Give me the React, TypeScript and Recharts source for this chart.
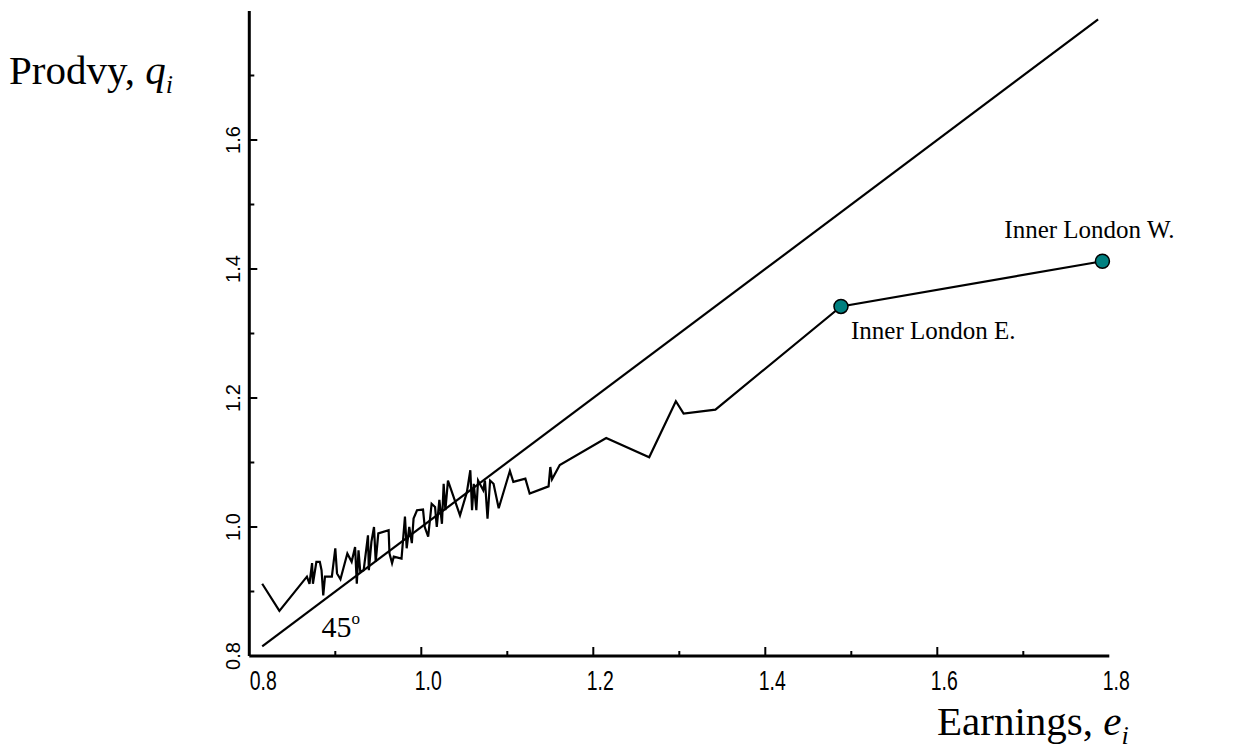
import { ComposedChart, Line, ReferenceDot, Scatter, XAxis, YAxis } from 'recharts'

// relative earnings (x) and relative productivity (y)
const earnings = [
  0.815, 0.835, 0.867, 0.87, 0.873, 0.874, 0.878, 0.882, 0.884, 0.886,
  0.888, 0.896, 0.9, 0.902, 0.906, 0.914, 0.919, 0.923, 0.925, 0.927,
  0.929, 0.933, 0.938, 0.939, 0.942, 0.945, 0.947, 0.95, 0.962, 0.963,
  0.966, 0.968, 0.977, 0.981, 0.983, 0.986, 0.989, 0.991, 0.995, 1.002,
  1.004, 1.008, 1.012, 1.016, 1.018, 1.021, 1.024, 1.026, 1.028, 1.031,
  1.045, 1.053, 1.057, 1.059, 1.061, 1.064, 1.066, 1.072, 1.074, 1.077,
  1.08, 1.084, 1.09, 1.103, 1.107, 1.121, 1.126, 1.148, 1.15, 1.152,
  1.161, 1.215, 1.265, 1.296, 1.305, 1.342,
]
const productivity = [
  0.912, 0.87, 0.923, 0.912, 0.944, 0.912, 0.946, 0.946, 0.933, 0.894,
  0.923, 0.923, 0.967, 0.928, 0.919, 0.959, 0.946, 0.969, 0.912, 0.964,
  0.931, 0.933, 0.987, 0.933, 0.977, 1.0, 0.946, 0.99, 0.995, 0.959,
  0.944, 0.954, 0.951, 1.016, 0.967, 1.0, 0.975, 1.013, 1.026, 1.027,
  1.0, 0.985, 1.036, 1.031, 1.0, 1.042, 1.005, 1.067, 1.026, 1.072,
  1.018, 1.054, 1.088, 1.026, 1.067, 1.026, 1.072, 1.057, 1.072, 1.013,
  1.072, 1.067, 1.029, 1.087, 1.07, 1.075, 1.052, 1.063, 1.093, 1.074,
  1.096, 1.138, 1.108, 1.195, 1.176, 1.182,
]
const londonNames = ['Inner London E.', 'Inner London W.']
const londonEarnings = [1.488, 1.792]
const londonProductivity = [1.342, 1.412]

const diagonalEnds = [0.815, 1.787]
const xTicks = [0.8, 0.9, 1.0, 1.1, 1.2, 1.3, 1.4, 1.5, 1.6, 1.7, 1.8]
const yTicks = [0.8, 0.9, 1.0, 1.1, 1.2, 1.3, 1.4, 1.5, 1.6, 1.7]

const regionData = [
  ...earnings.map((x, i) => ({ x, y: productivity[i] })),
  ...londonEarnings.map((x, i) => ({ x, y: londonProductivity[i] })),
]
const londonData = londonNames.map((name, i) => ({ name, x: londonEarnings[i], y: londonProductivity[i] }))
const diagonalData = diagonalEnds.map((v) => ({ x: v, y: v }))

const SANS = '"Liberation Sans", Arial, sans-serif'
const SERIF = '"Liberation Serif", "Times New Roman", serif'

const isMajor = (v: number) => Math.round(v * 10) % 2 === 0

function XTick({ x, y, payload }: any) {
  const v = payload.value
  const major = isMajor(v)
  const shift = v === 0.8 ? 14 : 7
  return (
    <g>
      {v > 0.8 && v < 1.8 && (
        <line x1={x} x2={x} y1={y} y2={y - (major ? 9 : 5)} stroke="#000" strokeWidth={2} />
      )}
      {major && (
        <text
          transform={`translate(${x + shift},${y + 34}) scale(0.72,1)`}
          textAnchor="middle"
          fontFamily={SANS}
          fontSize={27}
          fill="#000"
        >
          {v.toFixed(1)}
        </text>
      )}
    </g>
  )
}

function YTick({ x, y, payload }: any) {
  const v = payload.value
  const major = isMajor(v)
  const lx = x - 9
  return (
    <g>
      {v > 0.8 && (
        <line x1={x} x2={x + (major ? 8 : 5)} y1={y} y2={y} stroke="#000" strokeWidth={2} />
      )}
      {major && (
        <text
          x={lx}
          y={y}
          transform={`rotate(-90 ${lx} ${y})`}
          textAnchor="middle"
          fontFamily={SANS}
          fontSize={20}
          fill="#000"
        >
          {v.toFixed(1)}
        </text>
      )}
    </g>
  )
}

function LondonMarker({ cx, cy, payload }: any) {
  const west = payload.name.endsWith('W.')
  return (
    <g>
      <circle cx={cx} cy={cy} r={7} fill="#008080" stroke="#000" strokeWidth={1.5} />
      <text
        x={west ? cx - 13 : cx + 10}
        y={west ? cy - 23 : cy + 33}
        textAnchor={west ? 'middle' : 'start'}
        fontFamily={SERIF}
        fontSize={25}
        fill="#000"
      >
        {payload.name}
      </text>
    </g>
  )
}

function DegreeLabel({ viewBox }: any) {
  return (
    <text x={viewBox.x} y={viewBox.y} fontFamily={SERIF} fontSize={30} fill="#000">
      45
      <tspan fontSize={17} dy={-13}>o</tspan>
    </text>
  )
}

export default function App() {
  return (
    <div style={{ position: 'absolute', left: 0, top: 0, width: 1237, height: 749, background: '#fff' }}>
      <div style={{ position: 'absolute', left: 9, top: 50, fontFamily: SERIF, fontSize: 41, lineHeight: 1, whiteSpace: 'nowrap' }}>
        Prodvy, <i>q</i>
        <i style={{ fontSize: 26, position: 'relative', top: 9 }}>i</i>
      </div>
      <div style={{ position: 'absolute', left: 937, top: 701, fontFamily: SERIF, fontSize: 41, lineHeight: 1, whiteSpace: 'nowrap' }}>
        Earnings, <i>e</i>
        <i style={{ fontSize: 26, position: 'relative', top: 9 }}>i</i>
      </div>
      <ComposedChart
        width={1237}
        height={749}
        margin={{ top: 11, right: 127.7, left: 209.3, bottom: 43 }}
      >
        <XAxis
          dataKey="x"
          type="number"
          domain={[0.8, 1.8]}
          ticks={xTicks}
          interval={0}
          height={50}
          tickSize={0}
          tickMargin={0}
          tickLine={false}
          axisLine={{ stroke: '#000', strokeWidth: 3 }}
          tick={<XTick />}
        />
        <YAxis
          dataKey="y"
          type="number"
          domain={[0.8, 1.8]}
          ticks={yTicks}
          interval={0}
          width={40}
          tickSize={0}
          tickMargin={0}
          tickLine={false}
          axisLine={{ stroke: '#000', strokeWidth: 3 }}
          tick={<YTick />}
        />
        <Line
          data={diagonalData}
          dataKey="y"
          type="linear"
          stroke="#000"
          strokeWidth={2.2}
          dot={false}
          activeDot={false}
          isAnimationActive={false}
        />
        <Line
          data={regionData}
          dataKey="y"
          type="linear"
          stroke="#000"
          strokeWidth={2.2}
          dot={false}
          activeDot={false}
          isAnimationActive={false}
        />
        <Scatter data={londonData} dataKey="y" shape={<LondonMarker />} isAnimationActive={false} />
        <ReferenceDot x={0.884} y={0.829} r={0} fill="none" stroke="none" label={<DegreeLabel />} />
      </ComposedChart>
    </div>
  )
}
